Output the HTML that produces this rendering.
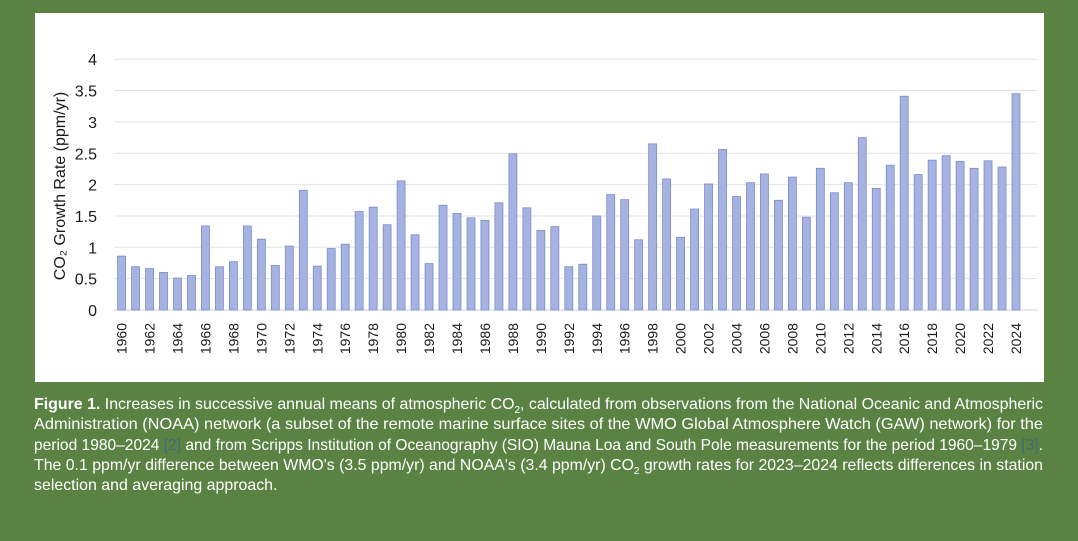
<!DOCTYPE html>
<html><head><meta charset="utf-8">
<style>
html,body{margin:0;padding:0;}
body{width:1078px;height:541px;background:#5a8343;position:relative;overflow:hidden;font-family:"Liberation Sans",sans-serif;}
#panel{position:absolute;left:35px;top:13px;width:1009px;height:369px;background:#fff;}
svg{position:absolute;left:0;top:0;}
.cap{position:absolute;left:34px;color:#fff;font-family:"Liberation Sans Narrow","Liberation Sans",sans-serif;font-size:16px;line-height:20px;white-space:nowrap;transform-origin:0 0;}
.ref{color:#3f6a7a;}
</style></head>
<body>
<div id="panel"></div>
<svg id="chart" width="1078" height="400"></svg>
<div class="cap fit" style="top:395px"><b>Figure 1.</b> Increases in successive annual means of atmospheric CO<sub style="font-size:10px">2</sub>, calculated from observations from the National Oceanic and Atmospheric</div>
<div class="cap fit" style="top:415px">Administration (NOAA) network (a subset of the remote marine surface sites of the WMO Global Atmosphere Watch (GAW) network) for the</div>
<div class="cap fit" style="top:436px">period 1980–2024 <span class="ref">[2]</span> and from Scripps Institution of Oceanography (SIO) Mauna Loa and South Pole measurements for the period 1960–1979 <span class="ref">[3]</span>.</div>
<div class="cap fit" style="top:456px">The 0.1 ppm/yr difference between WMO's (3.5 ppm/yr) and NOAA's (3.4 ppm/yr) CO<sub style="font-size:10px">2</sub> growth rates for 2023–2024 reflects differences in station</div>
<div class="cap" id="lastcap" style="top:476px">selection and averaging approach.</div>
<script>
const years=[];for(let y=1960;y<=2024;y++)years.push(y);
const growth=[0.86,0.69,0.66,0.60,0.51,0.55,1.34,0.69,0.77,1.34,1.13,0.71,1.02,1.91,0.70,0.98,1.05,1.57,1.64,1.36,2.06,1.20,0.74,1.67,1.54,1.47,1.43,1.71,2.49,1.63,1.27,1.33,0.69,0.73,1.50,1.84,1.76,1.12,2.65,2.09,1.16,1.61,2.01,2.56,1.81,2.03,2.17,1.75,2.12,1.48,2.26,1.87,2.03,2.75,1.94,2.31,3.41,2.16,2.39,2.46,2.37,2.26,2.38,2.28,3.45];
const yTicks=[0,0.5,1,1.5,2,2.5,3,3.5,4];
const NS="http://www.w3.org/2000/svg";
const svg=document.getElementById('chart');
const y0=310,yPer=62.7,x0=121.6,step=13.975,bw=8;
const yScale=v=>y0-v*yPer;
const xScale=i=>x0+i*step;
function mk(t,a){const e=document.createElementNS(NS,t);for(const k in a)e.setAttribute(k,a[k]);svg.appendChild(e);return e;}
yTicks.forEach(t=>{
  const g=mk('line',{x1:114,x2:1037,y1:yScale(t),y2:yScale(t),stroke:t===0?'#d0d0d0':'#e2e2e2','stroke-width':1});
  
  
  const l=mk('text',{x:97,y:yScale(t)+6,'text-anchor':'end','font-size':16,fill:'#1a1a1a'});
  l.textContent=String(t);
  
  
});
growth.forEach((v,i)=>{
  const r=mk('rect',{x:xScale(i)-bw/2,y:yScale(v),width:bw,height:v*yPer,fill:'#a6b3e2',stroke:'#7b8cc8','stroke-width':0.8});
  
  
  if(i%2===0){
    const cx=xScale(i)+5,cy=323;
    const t=mk('text',{x:cx,y:cy,'text-anchor':'end','font-size':14,fill:'#1a1a1a',transform:`rotate(-90 ${cx} ${cy})`});
    t.textContent=years[i];
    
    
  }
});
const yt=mk('text',{x:65,y:186,'text-anchor':'middle','font-size':16,fill:'#1a1a1a',transform:'rotate(-90 65 186)'});
yt.textContent='CO₂ Growth Rate (ppm/yr)';


let sum=0,n=0;
document.querySelectorAll('.cap.fit').forEach(el=>{
  const w=el.getBoundingClientRect().width;const s=1009/w;sum+=s;n++;
  el.style.transform='scaleX('+s+')';
});
document.getElementById('lastcap').style.transform='scaleX('+(sum/n)+')';
</script>
</body></html>
